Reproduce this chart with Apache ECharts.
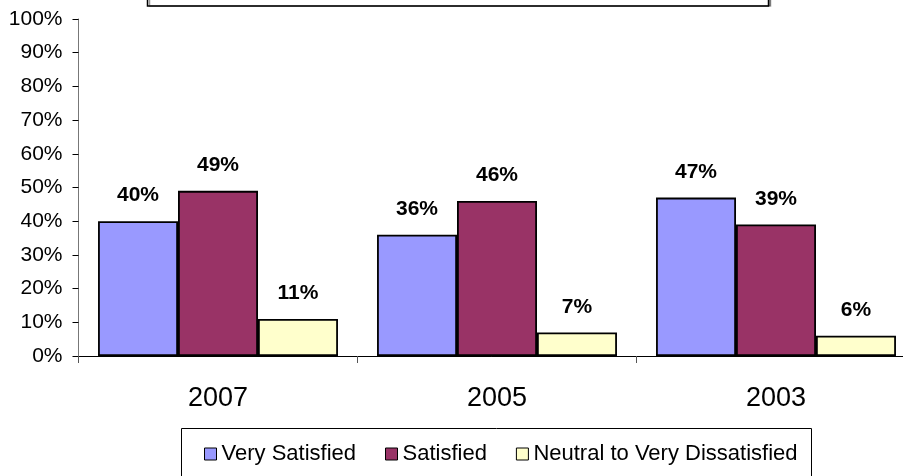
<!DOCTYPE html>
<html>
<head>
<meta charset="utf-8">
<script src="https://cdn.jsdelivr.net/npm/echarts@6/dist/echarts.min.js"></script>
<style>
    html, body { margin: 0; padding: 0; background: #fff; }
    #chart { width: 903px; height: 476px; }
</style>
</head>
<body>
<div id="chart"></div>
<script>
// 数据
const years = ["2007", "2005", "2003"];
const verySatisfied = [40, 36, 47];
const satisfied = [49, 46, 39];
const neutralToDissatisfied = [11, 7, 6];
const seriesNames = ["Very Satisfied", "Satisfied", "Neutral to Very Dissatisfied"];
const seriesColors = ["#9999ff", "#993366", "#ffffcc"];

const chart = echarts.init(document.getElementById("chart"));

function makeSeries(name, data, color) {
    return {
        name,
        type: "bar",
        data,
        barGap: "0%",
        barCategoryGap: "14%",
        itemStyle: { color, borderColor: "#000", borderWidth: 1.8 },
        label: {
            show: true,
            position: "top",
            distance: 15,
            formatter: "{c}%",
            fontFamily: "Liberation Sans, Arial, sans-serif",
            fontWeight: "bold",
            fontSize: 21,
            color: "#000",
        },
    };
}

chart.setOption({
    animation: false,
    // 绘图区右侧超出画布
    grid: { left: 78.5, top: 19, bottom: 120, width: 837, containLabel: false, outerBoundsMode: "none" },
    legend: {
        left: 199,
        top: 438,
        itemWidth: 12,
        itemHeight: 12,
        itemGap: 29,
        icon: "rect",
        itemStyle: { borderColor: "#000", borderWidth: 1 },
        textStyle: { fontFamily: "Liberation Sans, Arial, sans-serif", fontSize: 22, color: "#000" },
        data: seriesNames,
    },
    xAxis: {
        type: "category",
        data: years,
        axisLine: { lineStyle: { color: "#000", width: 1 } },
        axisTick: { show: true, length: 7, lineStyle: { color: "#555" } },
        axisLabel: { margin: 29, fontFamily: "Liberation Sans, Arial, sans-serif", fontSize: 27, color: "#000" },
    },
    yAxis: {
        type: "value",
        min: 0,
        max: 100,
        interval: 10,
        splitLine: { show: false },
        axisLine: { show: true, lineStyle: { color: "#777", width: 1 } },
        axisTick: { show: true, length: 6, lineStyle: { color: "#000" } },
        axisLabel: { margin: 16, formatter: "{value}%", fontFamily: "Liberation Sans, Arial, sans-serif", fontSize: 21, color: "#000" },
    },
    graphic: [
        {
            type: "rect",
            shape: { x: 147.5, y: -20, width: 621, height: 26 },
            style: { fill: "#fff", stroke: "#000", lineWidth: 1.5, shadowColor: "rgba(0,0,0,0.4)", shadowOffsetX: 2, shadowOffsetY: 0 },
        },
        {
            type: "rect",
            z: -1,
            shape: { x: 181.5, y: 428.5, width: 630, height: 60 },
            style: { fill: "#fff", stroke: "#000", lineWidth: 1 },
        },
    ],
    series: [
        makeSeries(seriesNames[0], verySatisfied, seriesColors[0]),
        makeSeries(seriesNames[1], satisfied, seriesColors[1]),
        makeSeries(seriesNames[2], neutralToDissatisfied, seriesColors[2]),
    ],
});
</script>
</body>
</html>
